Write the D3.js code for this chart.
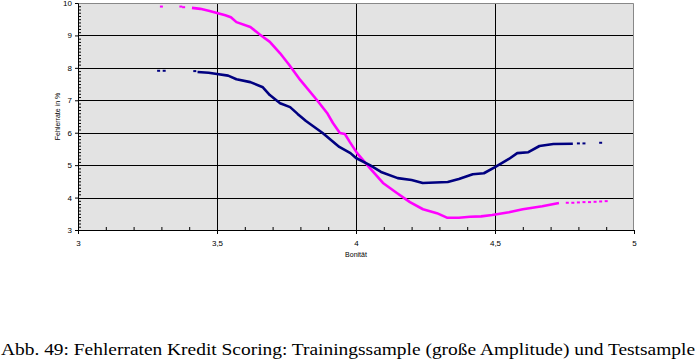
<!DOCTYPE html>
<html>
<head>
<meta charset="utf-8">
<script src="https://cdn.jsdelivr.net/npm/d3@7"></script>
<style>
  body { margin: 0; background: #fff; }
  svg { display: block; }
</style>
</head>
<body>
<div id="chart"></div>
<script>

// Trainingssample (magenta) - zusammenhaengender Teil
const trainX = [3.41, 3.44, 3.47, 3.50, 3.53, 3.55, 3.57, 3.62, 3.655, 3.69, 3.727, 3.76, 3.80, 3.86, 3.896, 3.917,
    3.942, 3.96, 3.978, 4.004, 4.05, 4.097, 4.147, 4.194, 4.241, 4.291, 4.327, 4.37, 4.41, 4.45, 4.49, 4.55, 4.60, 4.67, 4.73];
const trainY = [9.85, 9.82, 9.76, 9.69, 9.62, 9.56, 9.41, 9.26, 9.02, 8.80, 8.45, 8.09, 7.62, 7.00, 6.61, 6.30,
    5.99, 5.96, 5.71, 5.37, 4.91, 4.45, 4.14, 3.86, 3.64, 3.52, 3.38, 3.38, 3.41, 3.42, 3.46, 3.55, 3.64, 3.73, 3.83];
// einzelne Punkte
const trainDotX = [3.30, 3.37, 3.38, 4.76, 4.78, 4.80, 4.82, 4.84, 4.86, 4.88, 4.90];
const trainDotY = [9.89, 9.89, 9.87, 3.84, 3.84, 3.85, 3.86, 3.86, 3.87, 3.88, 3.89];

// Testsample (navy)
const testX = [3.43, 3.47, 3.50, 3.54, 3.57, 3.62, 3.665, 3.69, 3.727, 3.763, 3.79, 3.82, 3.88, 3.94, 3.98,
    4.00, 4.05, 4.09, 4.15, 4.20, 4.24, 4.33, 4.37, 4.42, 4.46, 4.50, 4.55, 4.58, 4.62, 4.66, 4.71, 4.78];
const testY = [7.87, 7.85, 7.81, 7.76, 7.65, 7.56, 7.40, 7.16, 6.91, 6.79, 6.58, 6.36, 5.99, 5.56, 5.37,
    5.22, 5.00, 4.79, 4.60, 4.54, 4.45, 4.48, 4.57, 4.72, 4.75, 4.94, 5.19, 5.37, 5.40, 5.59, 5.65, 5.66];
const testDotX = [3.29, 3.31, 3.42, 4.80, 4.82, 4.88];
const testDotY = [7.91, 7.91, 7.90, 5.67, 5.67, 5.69];

const xTicks = [3, 3.5, 4, 4.5, 5];
const xTickLabels = ["3", "3,5", "4", "4,5", "5"];
const yTicks = [3, 4, 5, 6, 7, 8, 9, 10];

const caption = "Abb. 49: Fehlerraten Kredit Scoring: Trainingssample (große Amplitude) und Testsample";

const W = 696, H = 362;
const margin = {top: 3, right: 62, bottom: 132, left: 78};
const width = W - margin.left - margin.right,
    height = H - margin.top - margin.bottom;

const svg = d3.select("#chart").append("svg")
    .attr("width", W)
    .attr("height", H);

const g = svg.append("g")
    .attr("transform", "translate(" + margin.left + "," + margin.top + ")");

const x = d3.scaleLinear().domain([3, 5]).range([0, width]);
const y = d3.scaleLinear().domain([3, 10]).range([height, 0]);

// plot background
g.append("rect")
    .attr("width", width)
    .attr("height", height)
    .attr("fill", "#e3e3e3");

// grid lines
g.selectAll(".hgrid")
    .data(yTicks.slice(1, -1))
    .enter().append("line")
    .attr("x1", 0).attr("x2", width)
    .attr("y1", d => Math.round(y(d)) + 0.5)
    .attr("y2", d => Math.round(y(d)) + 0.5)
    .attr("stroke", "#000").attr("stroke-width", 1);

g.selectAll(".vgrid")
    .data(xTicks.slice(1, -1))
    .enter().append("line")
    .attr("y1", 0).attr("y2", height)
    .attr("x1", d => Math.round(x(d)) + 0.5)
    .attr("x2", d => Math.round(x(d)) + 0.5)
    .attr("stroke", "#000").attr("stroke-width", 1);

// border top/right gray
g.append("path")
    .attr("d", "M0.5,0.5H" + (width - 0.5) + "V" + height)
    .attr("fill", "none")
    .attr("stroke", "#888");

// axes
const font = "Liberation Sans, Arial, sans-serif";

const xAxis = g.append("g")
    .attr("transform", "translate(0," + height + ")")
    .call(d3.axisBottom(x).tickValues(xTicks).tickSize(4).tickPadding(6)
        .tickFormat((d, i) => xTickLabels[i]));

const xMinor = g.append("g")
    .attr("transform", "translate(0," + height + ")")
    .call(d3.axisBottom(x).tickValues(d3.range(31, 50).map(v => v / 10).filter(v => Math.round(v * 10) % 5 !== 0))
        .tickSize(-3).tickFormat(""));

const yAxis = g.append("g")
    .call(d3.axisLeft(y).tickValues(yTicks).tickSize(3).tickPadding(3).tickFormat(d3.format("d")));

const yMinor = g.append("g")
    .call(d3.axisLeft(y).tickValues(d3.range(31, 100).map(v => v / 10).filter(v => Math.round(v * 10) % 10 !== 0))
        .tickSize(-3).tickFormat(""));

[xAxis, xMinor, yAxis, yMinor].forEach(a => {
    a.select(".domain").attr("stroke", "#000");
    a.selectAll(".tick line").attr("stroke", "#000");
    a.selectAll("text").attr("font-family", font).attr("font-size", 8).attr("fill", "#000");
});
xMinor.select(".domain").remove();
yMinor.select(".domain").remove();

// axis titles
g.append("text")
    .attr("x", width / 2)
    .attr("y", height + 27)
    .attr("text-anchor", "middle")
    .attr("font-family", font)
    .attr("font-size", 7)
    .text("Bonität");

g.append("text")
    .attr("transform", "translate(-18," + (height / 2) + ") rotate(-90)")
    .attr("text-anchor", "middle")
    .attr("font-family", font)
    .attr("font-size", 7)
    .text("Fehlerrate in %");

// series
const line = d3.line()
    .x(d => x(d[0]))
    .y(d => y(d[1]));

function drawSeries(xs, ys, dxs, dys, color) {
    const pts = xs.map((v, i) => [v, ys[i]]);
    g.append("path")
        .datum(pts)
        .attr("d", line)
        .attr("fill", "none")
        .attr("stroke", color)
        .attr("stroke-width", 2.6)
        .attr("stroke-linejoin", "round");

    g.selectAll(null)
        .data(dxs.map((v, i) => [v, dys[i]]))
        .enter().append("rect")
        .attr("x", d => x(d[0]) - 1.5)
        .attr("y", d => y(d[1]) - 1)
        .attr("width", 3)
        .attr("height", 2)
        .attr("fill", color);
}

drawSeries(trainX, trainY, trainDotX, trainDotY, "#ff00ff");
drawSeries(testX, testY, testDotX, testDotY, "#000080");

// caption
svg.append("text")
    .attr("x", 1)
    .attr("y", 355)
    .attr("font-family", "Liberation Serif, Times New Roman, serif")
    .attr("font-size", 17)
    .attr("textLength", 694)
    .attr("lengthAdjust", "spacingAndGlyphs")
    .text(caption);

</script>
</body>
</html>
